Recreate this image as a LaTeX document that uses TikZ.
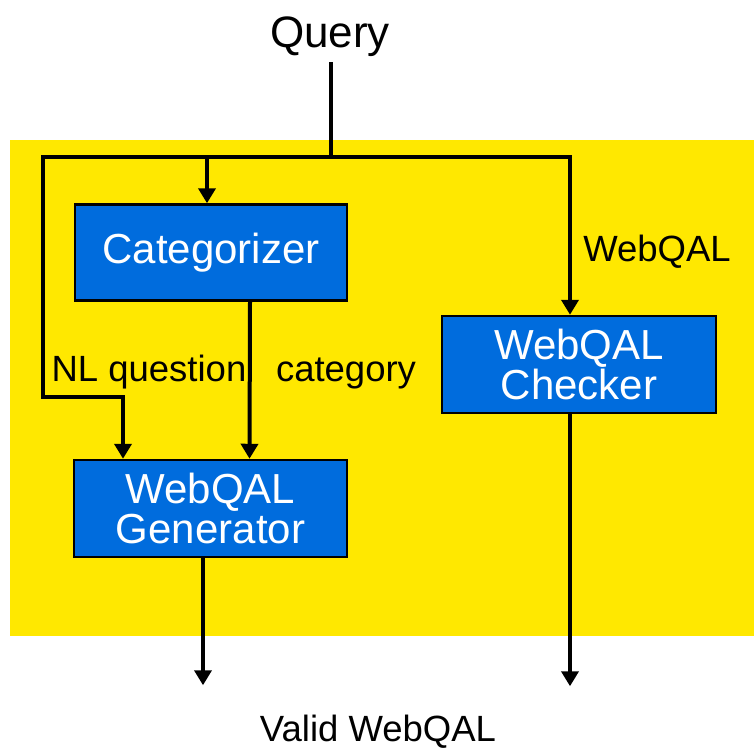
\documentclass[tikz,border=0pt]{standalone}
\usepackage{fontspec}
\setmainfont{Liberation Sans}
\usetikzlibrary{arrows.meta}
\definecolor{bgyellow}{RGB}{255,232,0}
\definecolor{boxblue}{RGB}{0,108,221}
\begin{document}
\begin{tikzpicture}[x=1pt,y=-1pt,
  box/.style={draw=black, line width=2.5pt, fill=boxblue, text=white, font=\fontsize{42}{40}\selectfont, align=center, inner sep=0pt},
  conn/.style={line width=4pt, line join=miter, -{Triangle[length=15pt,width=17pt]}},
  wire/.style={line width=4pt, line join=miter},
  lbl/.style={font=\fontsize{36.5}{40}\selectfont, inner sep=0pt, anchor=base}]
\useasboundingbox (0,0) rectangle (754,748);
\fill[bgyellow] (10,140) rectangle (754,636);
\node[box, minimum width=272pt, minimum height=96pt] (cat) at (211,252.5) {Categorizer};
\node[box, minimum width=273pt, minimum height=97pt] (gen) at (210.5,508.5) {WebQAL\\Generator};
\node[box, minimum width=274pt, minimum height=97pt] (chk) at (579,364.5) {WebQAL\\Checker};
\node[lbl, font=\fontsize{44}{48}\selectfont] (query) at (330,47) {Query};
\node[lbl] (nlq) at (149,381) {NL question};
\node[lbl] (catl) at (346,381) {category};
\node[lbl] (wql) at (657,261) {WebQAL};
\node[lbl] (valid) at (378,741) {Valid WebQAL};
\coordinate (qs) at (331,62);
\coordinate (jn) at (331,157);
\coordinate (lc) at (43,157);
\coordinate (rc) at (570,157);
\coordinate (ca) at (207,157);
\coordinate (lb) at (43,397);
\coordinate (nb) at (123,397);
\draw[wire] (qs) -- (jn);
\draw[conn] (jn) -- (lc) -- (lb) -- (nb) -- (nb |- gen.north);
\draw[conn] (jn) -- (rc) -- (rc |- chk.north);
\draw[conn] (ca) -- (ca |- cat.north);
\draw[conn] ([xshift=39pt]cat.south) -- ([xshift=39pt]gen.north);
\draw[conn] ([xshift=-7.5pt]gen.south) -- ++(0,127);
\draw[conn] (rc |- chk.south) -- ++(0,272);
\end{tikzpicture}
\end{document}
